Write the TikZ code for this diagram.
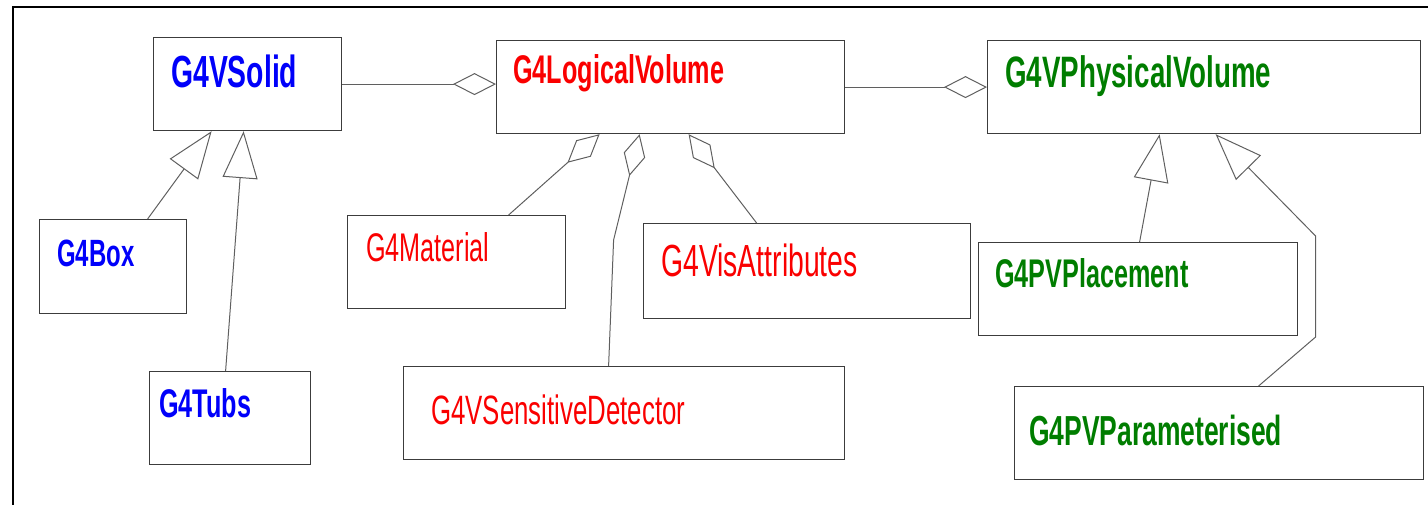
\documentclass[tikz,border=0pt]{standalone}
\usepackage{fontspec}
\usepackage{xcolor}
\usetikzlibrary{arrows.meta}

\newfontfamily\gfont[FakeStretch=0.63]{Liberation Sans}

\definecolor{g4blue}{RGB}{0,0,250}
\definecolor{g4red}{RGB}{250,0,0}
\definecolor{g4green}{RGB}{0,125,0}
\definecolor{boxgray}{RGB}{60,60,60}
\definecolor{linegray}{RGB}{95,95,95}

\begin{document}
\begin{tikzpicture}[x=1pt, y=-1pt,
  every node/.style={inner sep=0pt},
  cls/.style={draw=boxgray, line width=1.2pt, anchor=north west},
  clsname/.style={anchor=base west, font=\gfont\bfseries\fontsize{#1}{#1}\selectfont},
  plainname/.style={anchor=base west, font=\gfont\fontsize{#1}{#1}\selectfont},
  link/.style={draw=linegray, line width=1pt},
  agg/.style={link, -{Diamond[open, length=43pt, width=22pt]}},
  inherit/.style={link, -{Triangle[open, length=47pt, width=35pt]}}
]
  \useasboundingbox (0,0) rectangle (1428,505);

  % Outer frame
  \draw[line width=2pt] (13,505) -- (13,7) -- (1428,7);

  % Top row
  \node[cls, minimum width=188pt, minimum height=93pt] (solid)    at (153,37)  {};
  \node[cls, minimum width=348pt, minimum height=93pt] (logical)  at (496,40)  {};
  \node[cls, minimum width=433pt, minimum height=93pt] (physical) at (987,40)  {};

  % Solids
  \node[cls, minimum width=147pt, minimum height=94pt] (box)  at (39,219)  {};
  \node[cls, minimum width=161pt, minimum height=93pt] (tubs) at (149,371) {};

  % Parts of the logical volume
  \node[cls, minimum width=218pt, minimum height=93pt] (material) at (347,215) {};
  \node[cls, minimum width=327pt, minimum height=95pt] (visattr)  at (643,223) {};
  \node[cls, minimum width=441pt, minimum height=93pt] (sensdet)  at (403,366) {};

  % Physical volumes
  \node[cls, minimum width=319pt, minimum height=93pt] (placement) at (978,242)  {};
  \node[cls, minimum width=409pt, minimum height=93pt] (paramvol)  at (1014,386) {};

  % Class names
  \node[clsname=45, text=g4blue]  (solid-t)    at (171,88)  {G4VSolid};
  \node[clsname=40, text=g4red]   (logical-t)  at (513,84)  {G4LogicalVolume};
  \node[clsname=44, text=g4green] (physical-t) at (1005,88) {G4VPhysicalVolume};
  \node[clsname=38, text=g4blue]  (box-t)      at (57,267)  {G4Box};
  \node[clsname=40, text=g4blue]  (tubs-t)     at (159,417) {G4Tubs};
  \node[plainname=40, text=g4red] (material-t) at (366,262) {G4Material};
  \node[plainname=45, text=g4red] (visattr-t)  at (661,277) {G4VisAttributes};
  \node[plainname=41, text=g4red] (sensdet-t)  at (431,424) {G4VSensitiveDetector};
  \node[clsname=40, text=g4green] (placement-t) at (995,288)  {G4PVPlacement};
  \node[clsname=42, text=g4green] (paramvol-t)  at (1029,445) {G4PVParameterised};

  % Aggregation along the top row
  \draw[agg] (solid.east) -- (solid.east -| logical.west);
  \draw[agg] (logical.east) -- (physical.west);

  % Aggregation into the logical volume
  \draw[agg] ([xshift=52pt]material.north) -- ([xshift=-71pt]logical.south);
  \draw[agg] ([xshift=-15.5pt]sensdet.north) -- ++(5,-126) -- ([xshift=-31pt]logical.south);
  \draw[agg] ([xshift=-50.5pt]visattr.north) -- ([xshift=18pt]logical.south);

  % Inheritance
  \draw[inherit] ([xshift=34.5pt]box.north) -- ([xshift=-36pt]solid.south);
  \draw[inherit] ([xshift=-4.5pt]tubs.north) -- ([xshift=-4pt]solid.south);
  \draw[inherit] ([xshift=1.5pt]placement.north) -- ([xshift=-44.5pt]physical.south);
  \draw[inherit] ([xshift=39.5pt]paramvol.north) -- ++(57,-49) -- ++(0,-101)
    -- ([xshift=11.5pt]physical.south);
\end{tikzpicture}
\end{document}
